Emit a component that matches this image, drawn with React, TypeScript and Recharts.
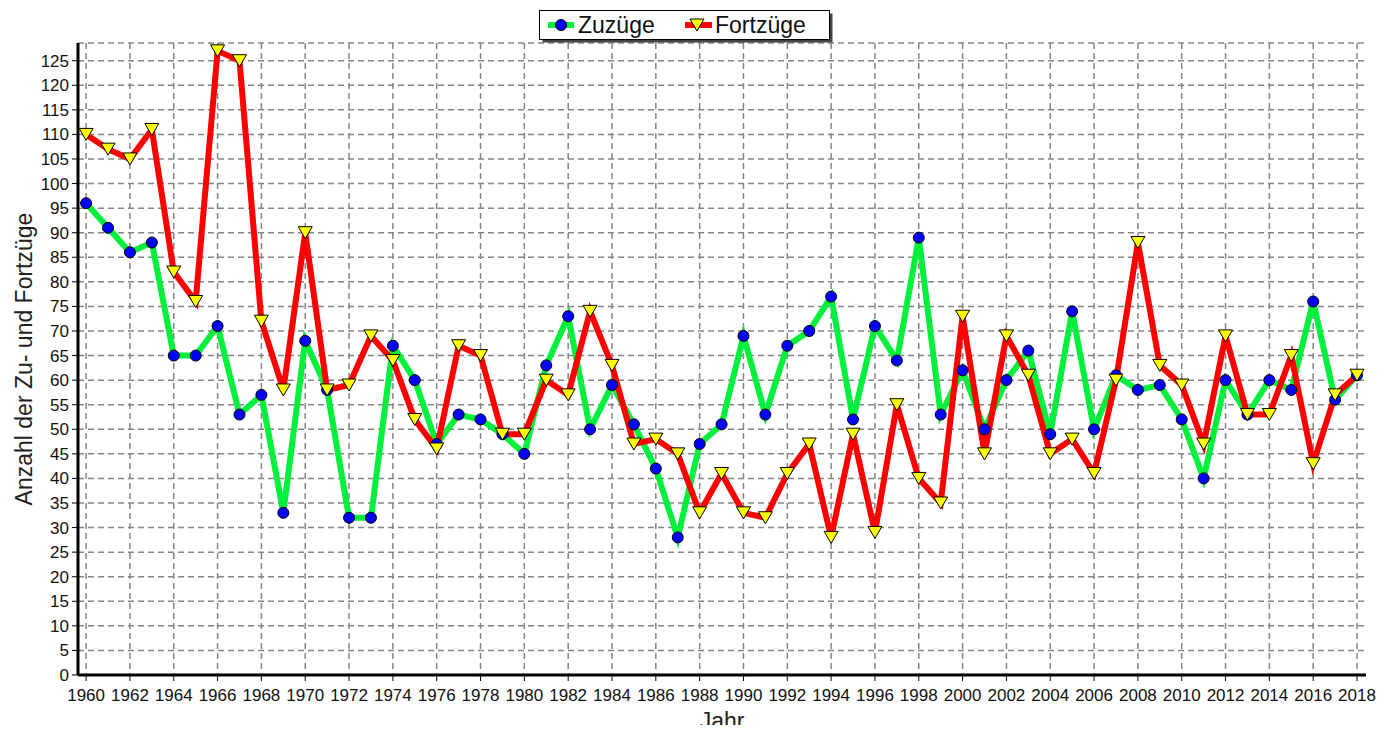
import React from 'react';
import { LineChart, Line, XAxis, YAxis, CartesianGrid } from 'recharts';

const years = [
  1960, 1961, 1962, 1963, 1964, 1965, 1966, 1967, 1968, 1969,
  1970, 1971, 1972, 1973, 1974, 1975, 1976, 1977, 1978, 1979,
  1980, 1981, 1982, 1983, 1984, 1985, 1986, 1987, 1988, 1989,
  1990, 1991, 1992, 1993, 1994, 1995, 1996, 1997, 1998, 1999,
  2000, 2001, 2002, 2003, 2004, 2005, 2006, 2007, 2008, 2009,
  2010, 2011, 2012, 2013, 2014, 2015, 2016, 2017, 2018,
];

const zuzuege = [
  96, 91, 86, 88, 65, 65, 71, 53, 57, 33,
  68, 58, 32, 32, 67, 60, 47, 53, 52, 49,
  45, 63, 73, 50, 59, 51, 42, 28, 47, 51,
  69, 53, 67, 70, 77, 52, 71, 64, 89, 53,
  62, 50, 60, 66, 49, 74, 50, 61, 58, 59,
  52, 40, 60, 53, 60, 58, 76, 56, 61,
];

const fortzuege = [
  110, 107, 105, 111, 82, 76, 127, 125, 72, 58,
  90, 58, 59, 69, 64, 52, 46, 67, 65, 49,
  49, 60, 57, 74, 63, 47, 48, 45, 33, 41,
  33, 32, 41, 47, 28, 49, 29, 55, 40, 35,
  73, 45, 69, 61, 45, 48, 41, 60, 88, 63,
  59, 47, 69, 53, 53, 65, 43, 57, 61,
];

const yearTicks = [
  1960, 1962, 1964, 1966, 1968, 1970, 1972, 1974, 1976, 1978,
  1980, 1982, 1984, 1986, 1988, 1990, 1992, 1994, 1996, 1998,
  2000, 2002, 2004, 2006, 2008, 2010, 2012, 2014, 2016, 2018,
];

const valueTicks = [
  0, 5, 10, 15, 20, 25, 30, 35, 40, 45, 50, 55, 60, 65,
  70, 75, 80, 85, 90, 95, 100, 105, 110, 115, 120, 125,
];

// minor tick marks: every third of a year on x, every unit on y
const minorYearTicks = years.flatMap((y) => [y, y + 1 / 3, y + 2 / 3]).filter((t) => t <= 2018);
const minorValueTicks = Array.from({ length: 129 }, (_, i) => i);

const data = years.map((year, i) => ({ year, zu: zuzuege[i], fort: fortzuege[i] }));

const X_DOMAIN: [number, number] = [1959.63, 2018.41];
const Y_DOMAIN: [number, number] = [0, 128.6];
const FONT = '"Liberation Sans", Arial, sans-serif';
const GREEN = '#00f03c';
const RED = '#ff0000';

function BlueDot(props: any) {
  const { cx, cy, index } = props;
  if (cx == null || cy == null) return <g key={`zu-${index}`} />;
  return <circle key={`zu-${index}`} cx={cx} cy={cy} r={5.5} fill="#0000ff" stroke="#000" strokeWidth={1} />;
}

function YellowTriangle(props: any) {
  const { cx, cy, index } = props;
  if (cx == null || cy == null) return <g key={`fort-${index}`} />;
  const pts = `${cx - 7},${cy - 6} ${cx + 7},${cy - 6} ${cx},${cy + 6}`;
  return <polygon key={`fort-${index}`} points={pts} fill="#ffff00" stroke="#000" strokeWidth={1} />;
}

// grid columns only at the labelled (two-year) ticks
function yearGridLines({ offset }: any) {
  const [d0, d1] = X_DOMAIN;
  return yearTicks.map((t) => offset.left + ((t - d0) / (d1 - d0)) * offset.width);
}

function JahrLabel(props: any) {
  const { viewBox } = props;
  return (
    <text x={viewBox.x + viewBox.width / 2} y={viewBox.y + 54} textAnchor="middle" fontSize={23} fill="#222" fontFamily={FONT}>
      Jahr
    </text>
  );
}

function LegendBox() {
  return (
    <svg width={1390} height={50} style={{ position: 'absolute', left: 0, top: 0 }}>
      <rect x={542.5} y={13.5} width={290} height={29} fill="#444" />
      <rect x={539.5} y={10.5} width={290} height={29} fill="#fff" stroke="#000" strokeWidth={1} />
      <line x1={548} y1={25} x2={574} y2={25} stroke={GREEN} strokeWidth={6} />
      <circle cx={561} cy={25} r={5.5} fill="#0000ff" stroke="#000" strokeWidth={1} />
      <text x={578} y={33} fontSize={23} fill="#111" fontFamily={FONT}>Zuzüge</text>
      <line x1={685} y1={25} x2={712} y2={25} stroke={RED} strokeWidth={6} />
      <polygon points="690,19 704,19 697,31" fill="#ffff00" stroke="#000" strokeWidth={1} />
      <text x={715} y={33} fontSize={23} fill="#111" fontFamily={FONT}>Fortzüge</text>
    </svg>
  );
}

export default function App() {
  return (
    <div style={{ position: 'relative', width: 1390, height: 733, margin: -8, background: '#fff', fontFamily: FONT }}>
      <LineChart width={1390} height={733} data={data} margin={{ top: 43, right: 24, bottom: 0, left: 0 }}>
        <CartesianGrid
          xAxisId="main"
          yAxisId="main"
          stroke="#858585"
          strokeWidth={1.5}
          strokeDasharray="6 4"
          verticalCoordinatesGenerator={yearGridLines}
        />
        <XAxis
          xAxisId="minor"
          dataKey="year"
          type="number"
          domain={X_DOMAIN}
          allowDataOverflow
          ticks={minorYearTicks}
          interval={0}
          height={0}
          axisLine={false}
          tickSize={3}
          tickLine={{ stroke: '#000' }}
          tick={() => <g />}
        />
        <XAxis
          xAxisId="main"
          dataKey="year"
          type="number"
          domain={X_DOMAIN}
          allowDataOverflow
          ticks={yearTicks}
          interval={0}
          height={58}
          tickSize={6}
          tickMargin={8}
          axisLine={{ stroke: '#000', strokeWidth: 3 }}
          tickLine={{ stroke: '#000' }}
          tick={{ fontSize: 17, fill: '#111', fontFamily: FONT }}
          label={{ content: JahrLabel }}
        />
        <XAxis
          xAxisId="top"
          orientation="top"
          dataKey="year"
          type="number"
          domain={X_DOMAIN}
          allowDataOverflow
          height={0}
          tick={false}
          tickLine={false}
          axisLine={{ stroke: '#000', strokeWidth: 2 }}
        />
        <YAxis
          yAxisId="minor"
          type="number"
          domain={Y_DOMAIN}
          allowDataOverflow
          ticks={minorValueTicks}
          interval={0}
          width={0}
          axisLine={false}
          tickSize={3}
          tickLine={{ stroke: '#000' }}
          tick={() => <g />}
        />
        <YAxis
          yAxisId="main"
          type="number"
          domain={Y_DOMAIN}
          allowDataOverflow
          ticks={valueTicks}
          interval={0}
          width={78}
          tickSize={6}
          tickMargin={3}
          axisLine={{ stroke: '#000', strokeWidth: 3 }}
          tickLine={{ stroke: '#000' }}
          tick={{ fontSize: 17, fill: '#111', fontFamily: FONT }}
          label={{
            value: 'Anzahl der Zu- und Fortzüge',
            angle: -90,
            position: 'insideLeft',
            offset: 24,
            fontSize: 23,
            fill: '#222',
            fontFamily: FONT,
            style: { textAnchor: 'middle' },
          }}
        />
        <YAxis
          yAxisId="right"
          orientation="right"
          type="number"
          domain={Y_DOMAIN}
          width={0}
          tick={false}
          tickLine={false}
          axisLine={{ stroke: '#000', strokeWidth: 3 }}
        />
        <Line
          xAxisId="main"
          yAxisId="main"
          type="linear"
          dataKey="zu"
          name="Zuzüge"
          stroke={GREEN}
          strokeWidth={6}
          dot={BlueDot}
          activeDot={false}
          isAnimationActive={false}
        />
        <Line
          xAxisId="main"
          yAxisId="main"
          type="linear"
          dataKey="fort"
          name="Fortzüge"
          stroke={RED}
          strokeWidth={6}
          dot={YellowTriangle}
          activeDot={false}
          isAnimationActive={false}
        />
      </LineChart>
      <LegendBox />
    </div>
  );
}
